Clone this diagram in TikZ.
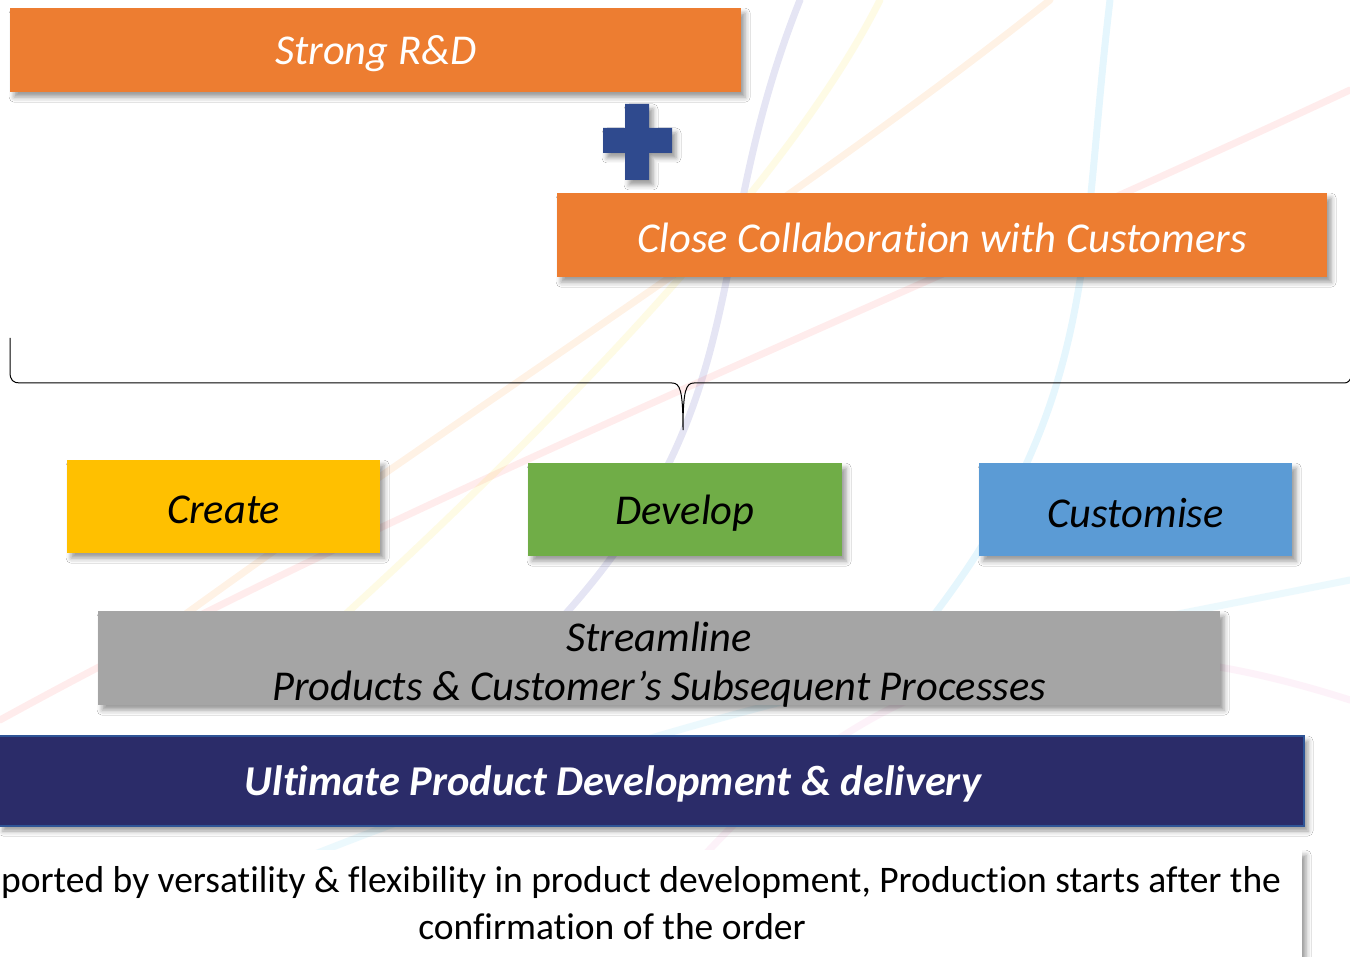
\documentclass[tikz,border=0pt]{standalone}
\usepackage{fontspec}
\setmainfont[Ligatures=NoCommon]{Carlito}
\usetikzlibrary{shadows,shadows.blur,calc}
\definecolor{orng}{HTML}{ED7D31}
\definecolor{yel}{HTML}{FFC000}
\definecolor{grn}{HTML}{70AD47}
\definecolor{blu}{HTML}{5B9BD5}
\definecolor{gry}{HTML}{A5A5A5}
\definecolor{navy}{HTML}{2B2C69}
\definecolor{navyedge}{HTML}{2F5597}
\definecolor{plusblue}{HTML}{2F4A8E}
\tikzset{
  softshadow/.style={blur shadow={shadow xshift=4pt, shadow yshift=-5pt, shadow blur radius=5pt, shadow opacity=40}},
  box/.style={rectangle, anchor=north west, inner sep=0pt, softshadow},
  bigtxt/.style={font=\fontsize{42.5}{48}\selectfont\itshape, yshift=-3pt},
  strand/.style={line width=7pt, opacity=0.10, line cap=round},
}
\begin{document}
\begin{tikzpicture}[x=1pt,y=-1pt]
\useasboundingbox (0,0) rectangle (1350,957);
\fill[white] (0,0) rectangle (1350,957);
% faint background strands
\draw[strand, color=blue!60!black] (800,0) .. controls (700,250) and (760,400) .. (560,620);
\draw[strand, color=cyan] (1110,0) .. controls (1080,250) and (1100,400) .. (930,620);
\draw[strand, color=red!70] (0,720) .. controls (400,500) and (900,300) .. (1350,90);
\draw[strand, color=orange] (150,640) .. controls (450,420) and (800,200) .. (1050,0);
\draw[strand, color=yellow!80!orange] (250,700) .. controls (500,480) and (780,200) .. (880,0);
\draw[strand, color=cyan!70] (1350,580) .. controls (1000,650) and (700,700) .. (300,860);
\draw[strand, color=magenta!50] (1350,700) .. controls (1100,620) and (900,640) .. (700,860);

% top boxes
\node[box, fill=orng, minimum width=731pt, minimum height=84pt] (rd) at (10,8) {};
\node[bigtxt, text=white] at (rd.center) {Strong R\&D};
\fill[plusblue, softshadow]
  (625,104) -- (649,104) -- (649,128) -- (672,128) -- (672,153) -- (649,153)
  -- (649,180) -- (625,180) -- (625,153) -- (603,153) -- (603,128) -- (625,128) -- cycle;
\node[box, fill=orng, minimum width=770pt, minimum height=84pt] (cc) at (557,193) {};
\node[bigtxt, text=white] at (cc.center) {Close Collaboration with Customers};

% brace
\coordinate (bl) at (10,338);
\coordinate (tip) at (683,430);
\coordinate (br) at (1352,375);
\draw[line width=1pt] (bl) -- (10,372) .. controls (10,380) and (13,383) .. (20,383)
  -- (672,383) .. controls (680,383) and (683,390) .. (tip)
  .. controls (683,390) and (686,383) .. (694,383) -- (1344,383)
  .. controls (1348,383) and (1350,381) .. (br);

% three boxes
\node[box, fill=yel, minimum width=313pt, minimum height=93pt] (cr) at (67,460) {};
\node[bigtxt, text=black] at (cr.center) {Create};
\node[box, fill=grn, minimum width=314pt, minimum height=93pt] (dv) at (528,463) {};
\node[bigtxt, text=black] at (dv.center) {Develop};
\node[box, fill=blu, minimum width=313pt, minimum height=93pt] (cu) at (979,463) {};
\node[bigtxt, text=black] at (cu.center) {Customise};

% streamline
\node[box, fill=gry, minimum width=1122pt, minimum height=94pt] (st) at (98,611) {};
\node[bigtxt, text=black] at (659,634) {Streamline};
\node[bigtxt, text=black] at (659,686) {Products \& Customer’s Subsequent Processes};

% ultimate
\node[box, fill=navy, draw=navyedge, line width=2pt, minimum width=1305pt, minimum height=90pt] (ul) at (-2,735) {};
\node[font=\fontsize{42.5}{48}\selectfont\bfseries\itshape, text=white, yshift=-2pt] at (613,782) {Ultimate Product Development \& delivery};

% bottom text box
\node[box, fill=white, minimum width=1312pt, minimum height=130pt] (bt) at (-10,850) {};
\node[font=\fontsize{37.5}{44}\selectfont, text=black, anchor=west, inner xsep=0pt] at (1,882) {ported by versatility \& flexibility in product development, Production starts after the};
\node[font=\fontsize{37.5}{44}\selectfont, text=black] at (612,927) {confirmation of the order};
\end{tikzpicture}
\end{document}
